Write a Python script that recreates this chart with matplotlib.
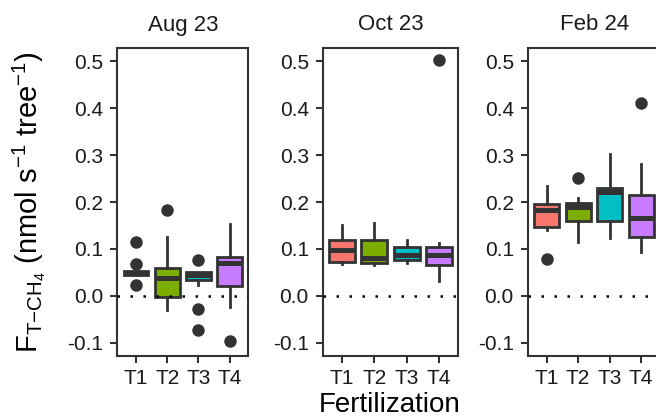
import matplotlib
matplotlib.use("Agg")
import matplotlib.pyplot as plt

plt.rcParams['font.family'] = ['Liberation Sans', 'DejaVu Sans']
plt.rcParams['mathtext.fontset'] = 'custom'
plt.rcParams['mathtext.rm'] = 'Liberation Sans'
plt.rcParams['mathtext.it'] = 'Liberation Sans:italic'
plt.rcParams['mathtext.bf'] = 'Liberation Sans:bold'

periods = ["Aug 23", "Oct 23", "Feb 24"]
treatments = ["T1", "T2", "T3", "T4"]
colors = ["#F8766D", "#7CAE00", "#00BFC4", "#C77CFF"]

# Aug 23
aug_q1 = [0.045, -0.003, 0.034, 0.020]
aug_med = [0.049, 0.038, 0.045, 0.071]
aug_q3 = [0.052, 0.060, 0.051, 0.083]
aug_lo = [0.045, -0.031, 0.023, -0.024]
aug_hi = [0.052, 0.125, 0.051, 0.153]
aug_out = [[0.114, 0.068, 0.023], [0.184], [0.077, -0.028, -0.074], [-0.097]]

# Oct 23
oct_q1 = [0.072, 0.070, 0.076, 0.066]
oct_med = [0.097, 0.080, 0.086, 0.086]
oct_q3 = [0.119, 0.118, 0.104, 0.104]
oct_lo = [0.068, 0.066, 0.070, 0.031]
oct_hi = [0.151, 0.155, 0.119, 0.113]
oct_out = [[], [], [], [0.502]]

# Feb 24
feb_q1 = [0.146, 0.160, 0.159, 0.125]
feb_med = [0.182, 0.190, 0.222, 0.167]
feb_q3 = [0.195, 0.199, 0.229, 0.216]
feb_lo = [0.140, 0.115, 0.123, 0.093]
feb_hi = [0.235, 0.209, 0.302, 0.282]
feb_out = [[0.079], [0.252], [], [0.412]]

yticks = [-0.1, 0.0, 0.1, 0.2, 0.3, 0.4, 0.5]

data = [
    (aug_q1, aug_med, aug_q3, aug_lo, aug_hi, aug_out),
    (oct_q1, oct_med, oct_q3, oct_lo, oct_hi, oct_out),
    (feb_q1, feb_med, feb_q3, feb_lo, feb_hi, feb_out),
]

W, H = 656, 419
fig = plt.figure(figsize=(W / 100, H / 100), dpi=100)

dark = "#333333"
panels_px = [(117.3, 248.3), (322.7, 458.3), (527.7, 660.0)]
top_px, bot_px = 48.3, 355.8

for (l, r), title, (q1, med, q3, lo, hi, out) in zip(panels_px, periods, data):
    ax = fig.add_axes([l / W, 1 - bot_px / H, (r - l) / W, (bot_px - top_px) / H])
    stats = []
    for i, t in enumerate(treatments):
        stats.append(dict(q1=q1[i], med=med[i], q3=q3[i], whislo=lo[i],
                          whishi=hi[i], fliers=out[i], label=t))
    bp = ax.bxp(stats, positions=[1, 2, 3, 4], widths=0.8, patch_artist=True,
                showcaps=False, showfliers=True,
                boxprops=dict(edgecolor=dark, linewidth=2.0),
                whiskerprops=dict(color=dark, linewidth=2.0),
                medianprops=dict(color=dark, linewidth=3.6, solid_capstyle='butt'),
                flierprops=dict(marker='o', markersize=9, markerfacecolor=dark,
                                markeredgecolor='none'))
    for patch, c in zip(bp['boxes'], colors):
        patch.set_facecolor(c)
    ax.axhline(0, color='black', linestyle=(0, (1, 4.2)), linewidth=1.8, zorder=5)
    ax.set_xlim(0.4, 4.6)
    ax.set_ylim(-0.128, 0.528)
    ax.set_yticks(yticks)
    ax.set_yticklabels([f"{v:.1f}" for v in yticks])
    ax.set_xticks([1, 2, 3, 4])
    ax.set_xticklabels(treatments)
    ax.tick_params(axis='both', direction='out', length=5, width=1.5, color=dark,
                   labelsize=15, labelcolor='#1a1a1a')
    ax.tick_params(axis='y', pad=5)
    ax.tick_params(axis='x', pad=4.5)
    for s in ax.spines.values():
        s.set_color(dark)
        s.set_linewidth(1.5)
    cx = (l + r) / 2
    if title == "Feb 24":
        cx = (l + 661) / 2
    fig.text(cx / W, 1 - 25 / H, title, ha='center', va='center', fontsize=16,
             color='#1a1a1a')

fig.text(390 / W, 1 - 412 / H, "Fertilization", ha='center', va='baseline',
         fontsize=20, color='black')
fig.text(29 / W, 1 - 202 / H,
         r'$\mathrm{F_{T{-}CH_4}}$ (nmol s$^{-1}$ tree$^{-1}$)',
         rotation=90, ha='center', va='center', fontsize=21, color='black')

fig.savefig("out.png", dpi=100)
